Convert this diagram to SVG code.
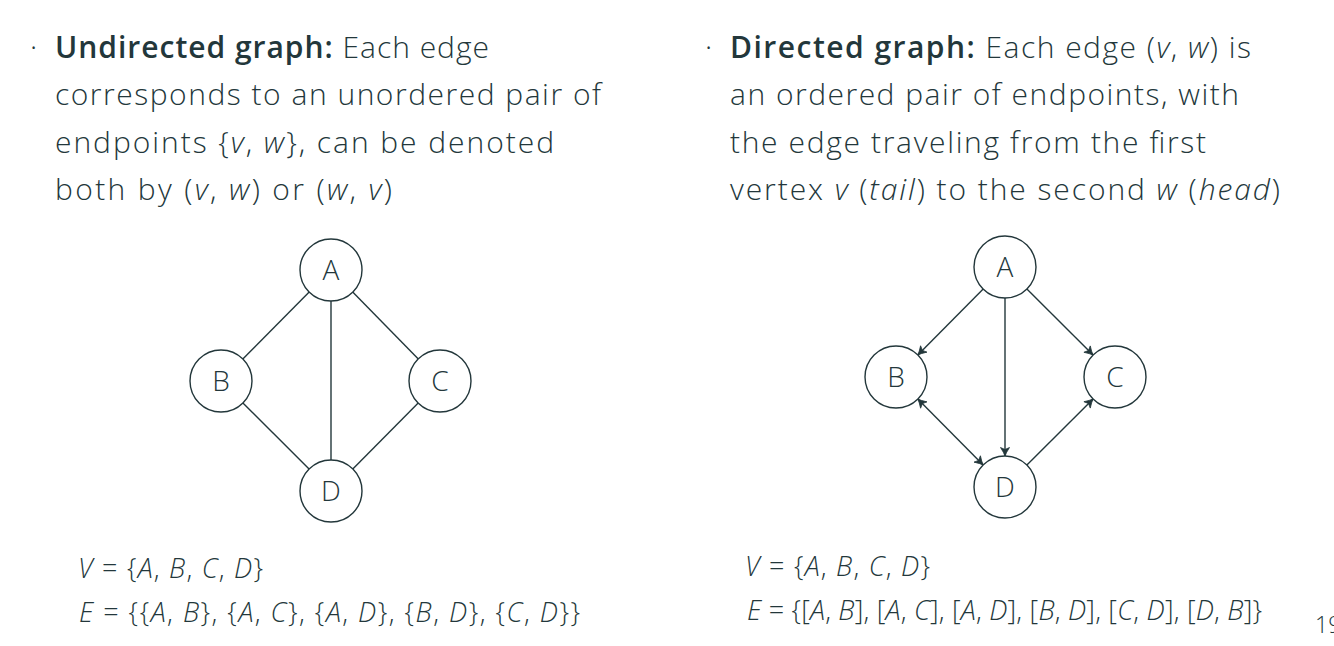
<svg xmlns="http://www.w3.org/2000/svg" width="1334" height="646" viewBox="0 0 1334 646">
<style>
text{font-family:"Open Sans","Noto Sans",sans-serif;fill:#23373b;font-weight:300}
.t{font-size:30px}
.b{font-weight:600}
.i{font-style:italic}
.lbl{font-size:28px;text-anchor:middle}
.m{font-size:27px}
circle{fill:#fff;stroke:#23373b;stroke-width:1.4}
.e line{stroke:#23373b;stroke-width:1.4}
</style>
<defs>
<marker id="ah" markerUnits="userSpaceOnUse" markerWidth="14" markerHeight="12" viewBox="-12 -6 14 12" refX="0" refY="0" orient="auto-start-reverse">
<path d="M-8.5,-4.5 Q-3.5,-1.2 0,0 Q-3.5,1.2 -8.5,4.5 L-6.5,0 Z" fill="#23373b" stroke="#23373b" stroke-width="0.8" stroke-linejoin="round"/>
</marker>
</defs>
<rect width="1334" height="646" fill="#fff"/>
<g id="left-text" class="t">
<text x="30" y="57">·</text>
<text x="55" y="57.5" textLength="434" lengthAdjust="spacing"><tspan class="b">Undirected graph:</tspan> Each edge</text>
<text x="55" y="105" textLength="546" lengthAdjust="spacing">corresponds to an unordered pair of</text>
<text x="55" y="152.5" textLength="499" lengthAdjust="spacing">endpoints {<tspan class="i">v</tspan>, <tspan class="i">w</tspan>}, can be denoted</text>
<text x="55" y="200" textLength="337" lengthAdjust="spacing">both by (<tspan class="i">v</tspan>, <tspan class="i">w</tspan>) or (<tspan class="i">w</tspan>, <tspan class="i">v</tspan>)</text>
</g>
<g id="right-text" class="t">
<text x="705" y="57">·</text>
<text x="730" y="57.5" textLength="521" lengthAdjust="spacing"><tspan class="b">Directed graph:</tspan> Each edge (<tspan class="i">v</tspan>, <tspan class="i">w</tspan>) is</text>
<text x="730" y="105" textLength="509" lengthAdjust="spacing">an ordered pair of endpoints, with</text>
<text x="730" y="152.5" textLength="476" lengthAdjust="spacing">the edge traveling from the first</text>
<text x="730" y="200" textLength="550" lengthAdjust="spacing">vertex <tspan class="i">v</tspan> (<tspan class="i">tail</tspan>) to the second <tspan class="i">w</tspan> (<tspan class="i">head</tspan>)</text>
</g>
<g id="connectors" class="e">
<line x1="309.2" y1="292" x2="242.8" y2="359"/>
<line x1="352.7" y1="292.1" x2="418.3" y2="358.9"/>
<line x1="331" y1="301" x2="331" y2="460"/>
<line x1="242.9" y1="402.9" x2="309.1" y2="469.1"/>
<line x1="418.2" y1="403" x2="352.8" y2="469"/>
<line x1="983.2" y1="289" x2="917.8" y2="355" marker-end="url(#ah)"/>
<line x1="1026.9" y1="288.9" x2="1093.1" y2="355.1" marker-end="url(#ah)"/>
<line x1="1005" y1="298" x2="1005" y2="456" marker-end="url(#ah)"/>
<line x1="917.8" y1="399" x2="983.2" y2="465" marker-start="url(#ah)" marker-end="url(#ah)"/>
<line x1="1026.9" y1="465.1" x2="1093.1" y2="398.9" marker-end="url(#ah)"/>
</g>
<g id="uA"><circle cx="331" cy="270" r="31"/><text class="lbl" x="331" y="280">A</text></g>
<g id="uB"><circle cx="221" cy="381" r="31"/><text class="lbl" x="221" y="391">B</text></g>
<g id="uC"><circle cx="440" cy="381" r="31"/><text class="lbl" x="440" y="391">C</text></g>
<g id="uD"><circle cx="331" cy="491" r="31"/><text class="lbl" x="331" y="501">D</text></g>
<g id="dA"><circle cx="1005" cy="267" r="31"/><text class="lbl" x="1005" y="277">A</text></g>
<g id="dB"><circle cx="896" cy="377" r="31"/><text class="lbl" x="896" y="387">B</text></g>
<g id="dC"><circle cx="1115" cy="377" r="31"/><text class="lbl" x="1115" y="387">C</text></g>
<g id="dD"><circle cx="1005" cy="487" r="31"/><text class="lbl" x="1005" y="497">D</text></g>
<g id="left-sets" class="m">
<text x="78" y="578" textLength="185" lengthAdjust="spacing"><tspan class="i">V</tspan> = {<tspan class="i">A</tspan>, <tspan class="i">B</tspan>, <tspan class="i">C</tspan>, <tspan class="i">D</tspan>}</text>
<text x="79" y="622" textLength="501" lengthAdjust="spacing"><tspan class="i">E</tspan> = {{<tspan class="i">A</tspan>, <tspan class="i">B</tspan>}, {<tspan class="i">A</tspan>, <tspan class="i">C</tspan>}, {<tspan class="i">A</tspan>, <tspan class="i">D</tspan>}, {<tspan class="i">B</tspan>, <tspan class="i">D</tspan>}, {<tspan class="i">C</tspan>, <tspan class="i">D</tspan>}}</text>
</g>
<g id="right-sets" class="m">
<text x="745" y="576" textLength="185" lengthAdjust="spacing"><tspan class="i">V</tspan> = {<tspan class="i">A</tspan>, <tspan class="i">B</tspan>, <tspan class="i">C</tspan>, <tspan class="i">D</tspan>}</text>
<text x="747" y="620" textLength="515" lengthAdjust="spacing"><tspan class="i">E</tspan> = {[<tspan class="i">A</tspan>, <tspan class="i">B</tspan>], [<tspan class="i">A</tspan>, <tspan class="i">C</tspan>], [<tspan class="i">A</tspan>, <tspan class="i">D</tspan>], [<tspan class="i">B</tspan>, <tspan class="i">D</tspan>], [<tspan class="i">C</tspan>, <tspan class="i">D</tspan>], [<tspan class="i">D</tspan>, <tspan class="i">B</tspan>]}</text>
</g>
<text id="page" x="1315" y="633" style="font-size:23px">19</text>
</svg>
